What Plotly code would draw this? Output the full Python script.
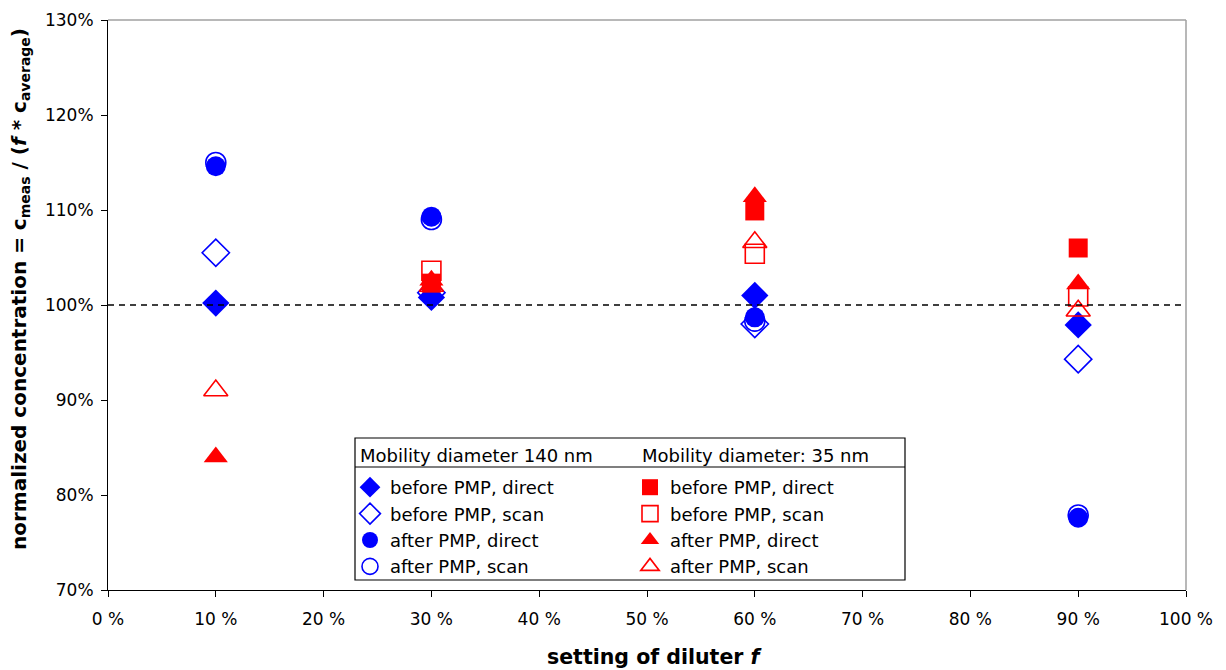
import plotly.graph_objects as go

# x positions (diluter setting, %)
x_vals = [10, 30, 60, 90]

# Mobility diameter 140 nm (blue)
before_direct_140 = [100.2, 100.8, 101.0, 97.9]
before_scan_140 = [105.5, 101.3, 98.0, 94.3]
after_direct_140 = [114.6, 109.3, 98.7, 77.6]
after_scan_140 = [115.0, 109.0, 98.3, 77.9]

# Mobility diameter 35 nm (red)
x_35 = [10, 30, 60, 90]
before_direct_35 = [None, 102.3, 109.9, 106.0]
before_scan_35 = [None, 103.6, 105.4, 100.9]
after_direct_35 = [84.0, 102.6, 111.4, 102.2]
after_scan_35 = [91.0, 102.0, 106.6, 99.4]

x_ticks = [0, 10, 20, 30, 40, 50, 60, 70, 80, 90, 100]
x_ticktext = ["0 %", "10 %", "20 %", "30 %", "40 %", "50 %", "60 %", "70 %", "80 %", "90 %", "100 %"]
y_ticks = [70, 80, 90, 100, 110, 120, 130]
y_ticktext = ["70%", "80%", "90%", "100%", "110%", "120%", "130%"]

header_140 = "Mobility diameter 140 nm"
header_35 = "Mobility diameter: 35 nm"
x_title = "<b>setting of diluter <i>f</i></b>"
y_title = "<b>normalized concentration = c<sub>meas</sub> / (<i>f</i> * c<sub>average</sub>)</b>"

BLUE = "#0000FF"
RED = "#FF0000"
FONT = "DejaVu Sans"

fig = go.Figure()

def add(x, y, name, symbol, color, size, open_, legend):
    fig.add_trace(go.Scatter(
        x=x, y=y, mode="markers", name=name, legend=legend,
        marker=dict(symbol=symbol + ("-open" if open_ else ""),
                    size=size, color=color,
                    line=dict(width=1.6 if open_ else 0, color=color)),
    ))

add(x_vals, before_direct_140, "before PMP, direct", "diamond", BLUE, 21, False, "legend")
add(x_vals, before_scan_140, "before PMP, scan", "diamond", BLUE, 21, True, "legend")
add(x_vals, after_direct_140, "after PMP, direct", "circle", BLUE, 20, False, "legend")
add(x_vals, after_scan_140, "after PMP, scan", "circle", BLUE, 20, True, "legend")

add(x_35, before_direct_35, "before PMP, direct", "square", RED, 19, False, "legend2")
add(x_35, before_scan_35, "before PMP, scan", "square", RED, 19, True, "legend2")
add(x_35, after_direct_35, "after PMP, direct", "triangle-up", RED, 21, False, "legend2")
add(x_35, after_scan_35, "after PMP, scan", "triangle-up", RED, 21, True, "legend2")

# plot area geometry in pixels (for paper-coordinate helpers)
L, R, T, B = 108, 1186, 20, 590
def px(xp):
    return (xp - L) / (R - L)
def py(yp):
    return (B - yp) / (B - T)

legend_common = dict(
    font=dict(family=FONT, size=18, color="black"),
    bgcolor="rgba(0,0,0,0)", borderwidth=0,
    xanchor="left", yanchor="top", tracegroupgap=0,
    itemclick=False, itemdoubleclick=False,
)

fig.update_layout(
    width=1226, height=670,
    margin=dict(l=L, r=1226 - R, t=T, b=670 - B, autoexpand=False),
    paper_bgcolor="white", plot_bgcolor="white",
    font=dict(family=FONT, size=17, color="black"),
    legend=dict(x=px(350), y=py(469), **legend_common),
    legend2=dict(x=px(630), y=py(469), **legend_common),
    xaxis=dict(range=[0, 100], tickmode="array", tickvals=x_ticks, ticktext=x_ticktext,
               showgrid=False, zeroline=False, showline=True, linecolor="black",
               linewidth=1, ticks="outside", ticklen=6, tickcolor="black",
               ticklabelstandoff=8, automargin=False,
               tickfont=dict(family=FONT, size=17)),
    yaxis=dict(range=[70, 130], tickmode="array", tickvals=y_ticks, ticktext=y_ticktext,
               showgrid=False, zeroline=False, showline=True, linecolor="black",
               linewidth=1, ticks="outside", ticklen=6, tickcolor="black",
               ticklabelstandoff=4, automargin=False,
               tickfont=dict(family=FONT, size=17)),
    annotations=[
        dict(text=header_140, xref="paper", yref="paper", x=px(358), y=py(456),
             xanchor="left", yanchor="middle", showarrow=False,
             font=dict(family=FONT, size=18, color="black")),
        dict(text=header_35, xref="paper", yref="paper", x=px(640), y=py(456),
             xanchor="left", yanchor="middle", showarrow=False,
             font=dict(family=FONT, size=18, color="black")),
        dict(text=x_title, xref="paper", yref="paper", x=px(655), y=py(657),
             xanchor="center", yanchor="middle", showarrow=False,
             font=dict(family=FONT, size=20.5, color="black")),
        dict(text=y_title, xref="paper", yref="paper", x=px(20), y=py(289),
             xanchor="center", yanchor="middle", showarrow=False, textangle=-90,
             font=dict(family=FONT, size=20, color="black")),
    ],
    shapes=[
        # reference line at 100 %
        dict(type="line", xref="paper", x0=0, x1=1, yref="y", y0=100, y1=100,
             line=dict(color="black", width=1.3, dash="6px,5px"), layer="above"),
        # gray top/right frame
        dict(type="line", xref="paper", yref="paper", x0=0, x1=1, y0=1, y1=1,
             line=dict(color="#A0A0A0", width=1.5)),
        dict(type="line", xref="paper", yref="paper", x0=1, x1=1, y0=0, y1=1,
             line=dict(color="#A0A0A0", width=1.5)),
        # legend box
        dict(type="rect", xref="paper", yref="paper", x0=px(355), x1=px(905),
             y0=py(580), y1=py(438), line=dict(color="black", width=1.2),
             fillcolor="white", layer="below"),
        dict(type="line", xref="paper", yref="paper", x0=px(355), x1=px(905),
             y0=py(467), y1=py(467), line=dict(color="black", width=1.2)),
    ],
)

fig.write_html("out.html")
